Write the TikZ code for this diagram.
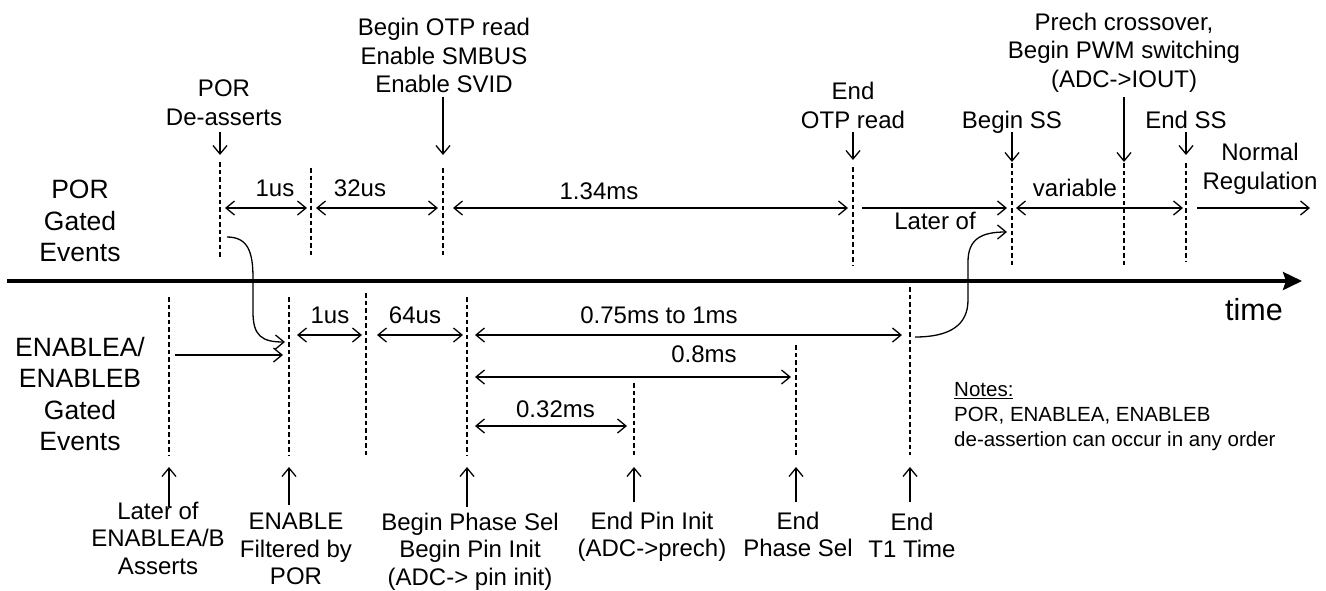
\documentclass[tikz,border=0pt]{standalone}
\usepackage{fontspec}
\setmainfont{Liberation Sans}
\usetikzlibrary{arrows.meta}
\begin{document}
\begin{tikzpicture}[x=1pt,y=-1pt,
  evline/.style={line width=2.9pt, dash pattern=on 4.5pt off 3pt},
  axisline/.style={line width=3.5pt, -{Stealth[length=19pt,width=18pt,inset=3pt]}},
  dimarrow/.style={line width=1.3pt, {Straight Barb[length=8.5pt,width=14pt,line width=1.3pt]}-{Straight Barb[length=8.5pt,width=14pt,line width=1.3pt]}},
  ptr/.style={line width=1.3pt, -{Straight Barb[length=8.5pt,width=14pt,line width=1.3pt]}},
  lbl/.style={font=\fontsize{24}{28.5}\selectfont, inner sep=0pt, align=center, anchor=north},
  botlbl/.style={font=\fontsize{24}{27.3}\selectfont, inner sep=0pt, align=center, anchor=north},
  dimlbl/.style={font=\fontsize{24}{28.5}\selectfont, inner sep=0pt, anchor=base},
  sidelbl/.style={font=\fontsize{26.5}{31.5}\selectfont, inner sep=0pt, align=center, anchor=north},
  notelbl/.style={font=\fontsize{20.5}{25}\selectfont, inner sep=0pt, align=left, anchor=north west},
  timelbl/.style={font=\fontsize{30.5}{36}\selectfont, inner sep=0pt, anchor=base}
]
\useasboundingbox (0,0) rectangle (1326,590);

% ---------- time axis ----------
\coordinate (ax0) at (7,281);
\coordinate (ax1) at (1302,281);
\draw[axisline] (ax0) -- (ax1);
\node[timelbl] (time) at (1254,320) {time};

% ---------- side labels ----------
\node[sidelbl] (porg) at (80,180) {POR\\Gated\\Events};
\node[sidelbl] (eng) at (80,337) {ENABLEA/\\ENABLEB\\Gated\\Events};

% ---------- top event lines ----------
\coordinate (E1t) at (220,162);  \coordinate (E1b) at (220,258);
\coordinate (E2t) at (311,168);  \coordinate (E2b) at (311,258);
\coordinate (E3t) at (443,168);  \coordinate (E3b) at (443,258);
\coordinate (E4t) at (853,167);  \coordinate (E4b) at (853,265);
\coordinate (E5t) at (1012,163); \coordinate (E5b) at (1012,265);
\coordinate (E6t) at (1124,163); \coordinate (E6b) at (1124,265);
\coordinate (E7t) at (1186,163); \coordinate (E7b) at (1186,262);
\foreach \n in {1,...,7} { \draw[evline] (E\n t) -- (E\n b); }

% ---------- bottom event lines ----------
\coordinate (F1t) at (169,297); \coordinate (F1b) at (169,455);
\coordinate (F2t) at (289,297); \coordinate (F2b) at (289,455);
\coordinate (F3t) at (366,293); \coordinate (F3b) at (366,458);
\coordinate (F4t) at (467,297); \coordinate (F4b) at (467,455);
\coordinate (F5t) at (634,383); \coordinate (F5b) at (634,455);
\coordinate (F6t) at (796,345); \coordinate (F6b) at (796,455);
\coordinate (F7t) at (910,287); \coordinate (F7b) at (910,455);
\foreach \n in {1,...,7} { \draw[evline] (F\n t) -- (F\n b); }

% ---------- top labels and pointers ----------
\node[lbl] (lpor) at (224,80) {POR\\De-asserts};
\node[lbl] (lotp) at (444,18) {Begin OTP read\\Enable SMBUS\\Enable SVID};
\node[lbl] (leotp) at (853,82) {End\\OTP read};
\node[lbl] (lbss) at (1012,111) {Begin SS};
\node[lbl] (lprech) at (1124,12.5) {Prech crossover,\\Begin PWM switching\\(ADC->IOUT)};
\node[lbl] (less) at (1186,111) {End SS};
\node[lbl] (lnorm) at (1260,143) {Normal\\Regulation};

\coordinate (P1a) at (220,132);  \coordinate (P1b) at (220,155);
\coordinate (P3a) at (443,97);   \coordinate (P3b) at (443,155);
\coordinate (P4a) at (853,132);  \coordinate (P4b) at (853,160);
\coordinate (P5a) at (1012,132); \coordinate (P5b) at (1012,162);
\coordinate (P6a) at (1124,97);  \coordinate (P6b) at (1124,162);
\coordinate (P7a) at (1186,132); \coordinate (P7b) at (1186,155);
\foreach \n in {1,3,4,5,6,7} { \draw[ptr] (P\n a) -- (P\n b); }

% ---------- top dimensions ----------
\coordinate (D1a) at (225,208);  \coordinate (D1b) at (307,208);
\coordinate (D2a) at (316,208);  \coordinate (D2b) at (438,208);
\coordinate (D3a) at (453,208);  \coordinate (D3b) at (848,208);
\coordinate (D4a) at (862,208);  \coordinate (D4b) at (1007,208);
\coordinate (D5a) at (1016,208); \coordinate (D5b) at (1183,208);
\coordinate (D6a) at (1197,208); \coordinate (D6b) at (1310,208);
\draw[dimarrow] (D1a) -- (D1b);
\draw[dimarrow] (D2a) -- (D2b);
\draw[dimarrow] (D3a) -- (D3b);
\draw[ptr] (D4a) -- (D4b);
\draw[dimarrow] (D5a) -- (D5b);
\draw[ptr] (D6a) -- (D6b);
\node[dimlbl] (t1us) at (275,196) {1us};
\node[dimlbl] (t32us) at (360,196) {32us};
\node[dimlbl] (t134) at (599,199) {1.34ms};
\node[dimlbl] (tlater) at (935,229) {Later of};
\node[dimlbl] (tvar) at (1075,196) {variable};

% ---------- bottom labels and pointers ----------
\node[botlbl] (llater) at (158,502) {Later of\\ENABLEA/B\\Asserts};
\node[botlbl] (lenf) at (296,513) {ENABLE\\Filtered by\\POR};
\node[botlbl] (lbps) at (470,513) {Begin Phase Sel\\Begin Pin Init\\(ADC-> pin init)};
\node[botlbl] (lepi) at (652,512) {End Pin Init\\(ADC->prech)};
\node[botlbl] (leps) at (798,512) {End\\Phase Sel};
\node[botlbl] (let1) at (912,513) {End\\T1 Time};

\coordinate (Q1a) at (169,507); \coordinate (Q1b) at (169,467);
\coordinate (Q2a) at (289,505); \coordinate (Q2b) at (289,467);
\coordinate (Q4a) at (467,507); \coordinate (Q4b) at (467,467);
\coordinate (Q5a) at (634,502); \coordinate (Q5b) at (634,467);
\coordinate (Q6a) at (796,502); \coordinate (Q6b) at (796,467);
\coordinate (Q7a) at (910,502); \coordinate (Q7b) at (910,467);
\foreach \n in {1,2,4,5,6,7} { \draw[ptr] (Q\n a) -- (Q\n b); }

% ---------- bottom dimensions ----------
\coordinate (G0a) at (175,355); \coordinate (G0b) at (283,355);
\coordinate (G1a) at (297,335); \coordinate (G1b) at (362,335);
\coordinate (G2a) at (377,335); \coordinate (G2b) at (463,335);
\coordinate (G3a) at (475,335); \coordinate (G3b) at (902,335);
\coordinate (G4a) at (475,377); \coordinate (G4b) at (791,377);
\coordinate (G5a) at (475,426); \coordinate (G5b) at (627,426);
\draw[ptr] (G0a) -- (G0b);
\draw[dimarrow] (G1a) -- (G1b);
\draw[dimarrow] (G2a) -- (G2b);
\draw[dimarrow] (G3a) -- (G3b);
\draw[dimarrow] (G4a) -- (G4b);
\draw[dimarrow] (G5a) -- (G5b);
\node[dimlbl] (b1us) at (330,323) {1us};
\node[dimlbl] (b64us) at (415,323) {64us};
\node[dimlbl] (b075) at (659,323) {0.75ms to 1ms};
\node[dimlbl] (b08) at (704,362) {0.8ms};
\node[dimlbl] (b032) at (555.5,417) {0.32ms};

% ---------- cross-over curves ----------
\coordinate (C1s) at (227,237); \coordinate (C1e) at (285,342);
\draw[ptr] (C1s) .. controls (248,237) and (253,252) .. (253,278) -- (253,312)
  .. controls (253,336) and (262,342) .. (C1e);
\coordinate (C2s) at (915,337); \coordinate (C2e) at (1007,232);
\draw[ptr] (C2s) .. controls (950,337) and (968,325) .. (968,300) -- (968,262)
  .. controls (968,240) and (980,232) .. (C2e);

% ---------- notes ----------
\node[notelbl] (notes) at (954,382) {\underline{Notes:}\\POR, ENABLEA, ENABLEB\\de-assertion can occur in any order};

\end{tikzpicture}
\end{document}
